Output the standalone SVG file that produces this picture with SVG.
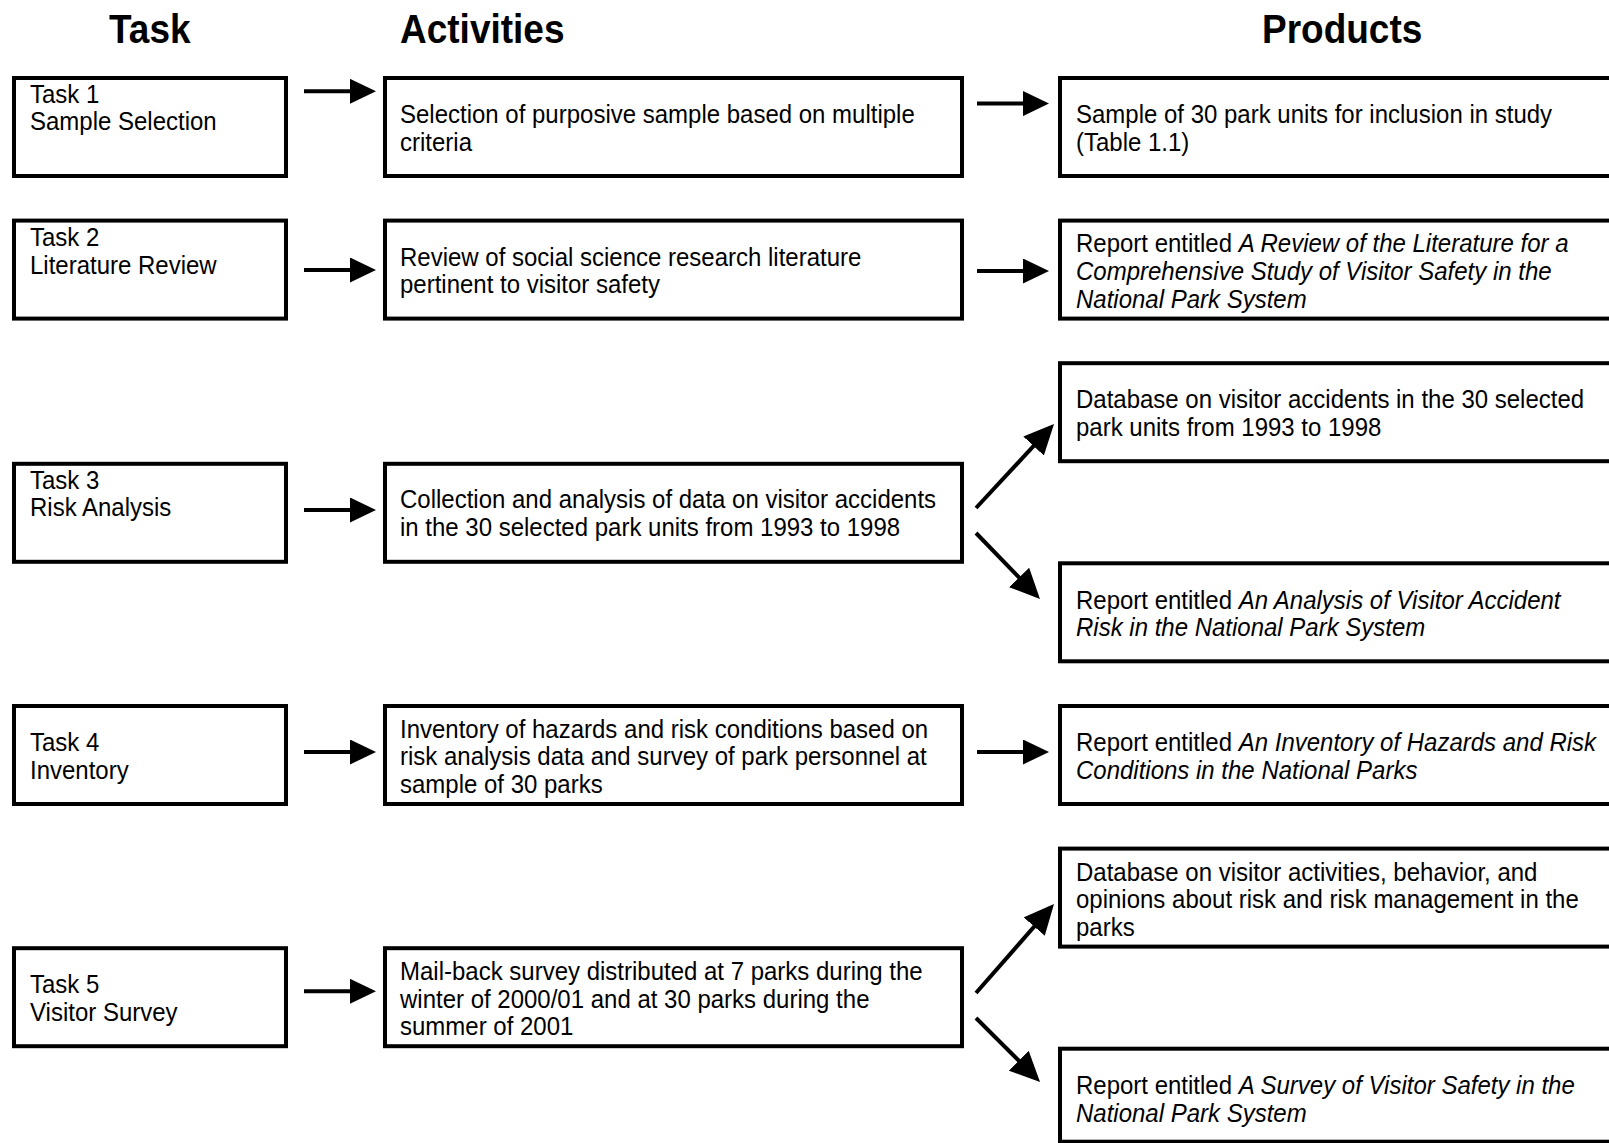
<svg xmlns="http://www.w3.org/2000/svg" width="1609" height="1143" viewBox="0 0 1609 1143">
<style>
.box{fill:#fff;stroke:#000;stroke-width:4}
.t{font-family:"Liberation Sans",Arial,sans-serif;font-size:24px;fill:#000}
.h{font-family:"Liberation Sans",Arial,sans-serif;font-size:37px;font-weight:bold;fill:#000}
.i{font-style:italic}
.c{stroke:#000;stroke-width:4;fill:none;marker-end:url(#ah)}
.d{stroke:#000;stroke-width:4;fill:none;marker-end:url(#ad)}
</style>
<defs>
<marker id="ah" markerUnits="userSpaceOnUse" markerWidth="26" markerHeight="25" refX="21" refY="12.5" orient="auto">
<path d="M0,0 L26,12.5 L0,25 Z" fill="#000"/>
</marker>
<marker id="ad" markerUnits="userSpaceOnUse" markerWidth="30" markerHeight="28" refX="25" refY="14" orient="auto">
<path d="M0,0 L30,14 L0,28 Z" fill="#000"/>
</marker>
</defs>
<rect width="1609" height="1143" fill="#fff"/>
<g id="headers">
<text class="h" transform="translate(109,43) scale(1,1.08)">Task</text>
<text class="h" transform="translate(400,43) scale(1,1.08)">Activities</text>
<text class="h" transform="translate(1262,43) scale(1,1.08)">Products</text>
</g>
<g id="task1"><rect class="box" x="14" y="78" width="272" height="98"/>
<text class="t" transform="translate(30,102.6) scale(1,1.08)"><tspan x="0" y="0">Task 1</tspan><tspan x="0" dy="25.6">Sample Selection</tspan></text></g>
<g id="act1"><rect class="box" x="385" y="78" width="577" height="98"/>
<text class="t" transform="translate(400,123) scale(1,1.08)"><tspan x="0" y="0">Selection of purposive sample based on multiple</tspan><tspan x="0" dy="25.6">criteria</tspan></text></g>
<g id="prod1"><rect class="box" x="1060" y="78" width="600" height="98"/>
<text class="t" transform="translate(1076,123) scale(1,1.08)"><tspan x="0" y="0">Sample of 30 park units for inclusion in study</tspan><tspan x="0" dy="25.6">(Table 1.1)</tspan></text></g>

<g id="task2"><rect class="box" x="14" y="220.6" width="272" height="98"/>
<text class="t" transform="translate(30,246) scale(1,1.08)"><tspan x="0" y="0">Task 2</tspan><tspan x="0" dy="25.6">Literature Review</tspan></text></g>
<g id="act2"><rect class="box" x="385" y="220.6" width="577" height="98"/>
<text class="t" transform="translate(400,265.8) scale(1,1.08)"><tspan x="0" y="0">Review of social science research literature</tspan><tspan x="0" dy="25.6">pertinent to visitor safety</tspan></text></g>
<g id="prod2"><rect class="box" x="1060" y="220.6" width="600" height="98"/>
<text class="t" transform="translate(1076,252.4) scale(1,1.08)"><tspan x="0" y="0">Report entitled <tspan class="i">A Review of the Literature for a</tspan></tspan><tspan x="0" dy="25.6" class="i">Comprehensive Study of Visitor Safety in the</tspan><tspan x="0" dy="25.6" class="i">National Park System</tspan></text></g>

<g id="prod3a"><rect class="box" x="1060" y="363.2" width="600" height="98"/>
<text class="t" transform="translate(1076,408.4) scale(1,1.08)"><tspan x="0" y="0">Database on visitor accidents in the 30 selected</tspan><tspan x="0" dy="25.6">park units from 1993 to 1998</tspan></text></g>
<g id="task3"><rect class="box" x="14" y="463.8" width="272" height="98"/>
<text class="t" transform="translate(30,488.5) scale(1,1.08)"><tspan x="0" y="0">Task 3</tspan><tspan x="0" dy="25.6">Risk Analysis</tspan></text></g>
<g id="act3"><rect class="box" x="385" y="463.8" width="577" height="98"/>
<text class="t" transform="translate(400,508) scale(1,1.08)"><tspan x="0" y="0">Collection and analysis of data on visitor accidents</tspan><tspan x="0" dy="25.6">in the 30 selected park units from 1993 to 1998</tspan></text></g>
<g id="prod3b"><rect class="box" x="1060" y="563.3" width="600" height="98"/>
<text class="t" transform="translate(1076,608.5) scale(1,1.08)"><tspan x="0" y="0">Report entitled <tspan class="i">An Analysis of Visitor Accident</tspan></tspan><tspan x="0" dy="25.6" class="i">Risk in the National Park System</tspan></text></g>

<g id="task4"><rect class="box" x="14" y="706" width="272" height="98"/>
<text class="t" transform="translate(30,751) scale(1,1.08)"><tspan x="0" y="0">Task 4</tspan><tspan x="0" dy="25.6">Inventory</tspan></text></g>
<g id="act4"><rect class="box" x="385" y="706" width="577" height="98"/>
<text class="t" transform="translate(400,737.8) scale(1,1.08)"><tspan x="0" y="0">Inventory of hazards and risk conditions based on</tspan><tspan x="0" dy="25.6">risk analysis data and survey of park personnel at</tspan><tspan x="0" dy="25.6">sample of 30 parks</tspan></text></g>
<g id="prod4"><rect class="box" x="1060" y="706" width="600" height="98"/>
<text class="t" transform="translate(1076,751) scale(1,1.08)"><tspan x="0" y="0">Report entitled <tspan class="i">An Inventory of Hazards and Risk</tspan></tspan><tspan x="0" dy="25.6" class="i">Conditions in the National Parks</tspan></text></g>

<g id="prod5a"><rect class="box" x="1060" y="848.6" width="600" height="98"/>
<text class="t" transform="translate(1076,880.5) scale(1,1.08)"><tspan x="0" y="0">Database on visitor activities, behavior, and</tspan><tspan x="0" dy="25.6">opinions about risk and risk management in the</tspan><tspan x="0" dy="25.6">parks</tspan></text></g>
<g id="task5"><rect class="box" x="14" y="948.2" width="272" height="98"/>
<text class="t" transform="translate(30,993.4) scale(1,1.08)"><tspan x="0" y="0">Task 5</tspan><tspan x="0" dy="25.6">Visitor Survey</tspan></text></g>
<g id="act5"><rect class="box" x="385" y="948.2" width="577" height="98"/>
<text class="t" transform="translate(400,980) scale(1,1.08)"><tspan x="0" y="0">Mail-back survey distributed at 7 parks during the</tspan><tspan x="0" dy="25.6">winter of 2000/01 and at 30 parks during the</tspan><tspan x="0" dy="25.6">summer of 2001</tspan></text></g>
<g id="prod5b"><rect class="box" x="1060" y="1048.7" width="600" height="93"/>
<text class="t" transform="translate(1076,1094) scale(1,1.08)"><tspan x="0" y="0">Report entitled <tspan class="i">A Survey of Visitor Safety in the</tspan></tspan><tspan x="0" dy="25.6" class="i">National Park System</tspan></text></g>

<g id="connectors">
<line class="c" x1="304" y1="91.3" x2="371" y2="91.3"/>
<line class="c" x1="977" y1="103.6" x2="1044" y2="103.6"/>
<line class="c" x1="304" y1="270" x2="371" y2="270"/>
<line class="c" x1="977" y1="271" x2="1044" y2="271"/>
<line class="c" x1="304" y1="510" x2="371" y2="510"/>
<line class="d" x1="976" y1="508" x2="1050.6" y2="427.7"/>
<line class="d" x1="976" y1="533" x2="1036.5" y2="595.4"/>
<line class="c" x1="304" y1="752" x2="371" y2="752"/>
<line class="c" x1="977" y1="752" x2="1044" y2="752"/>
<line class="c" x1="304" y1="991.3" x2="371" y2="991.3"/>
<line class="d" x1="976" y1="993" x2="1050.7" y2="907.8"/>
<line class="d" x1="976" y1="1018" x2="1036.5" y2="1078.4"/>
</g>
</svg>
